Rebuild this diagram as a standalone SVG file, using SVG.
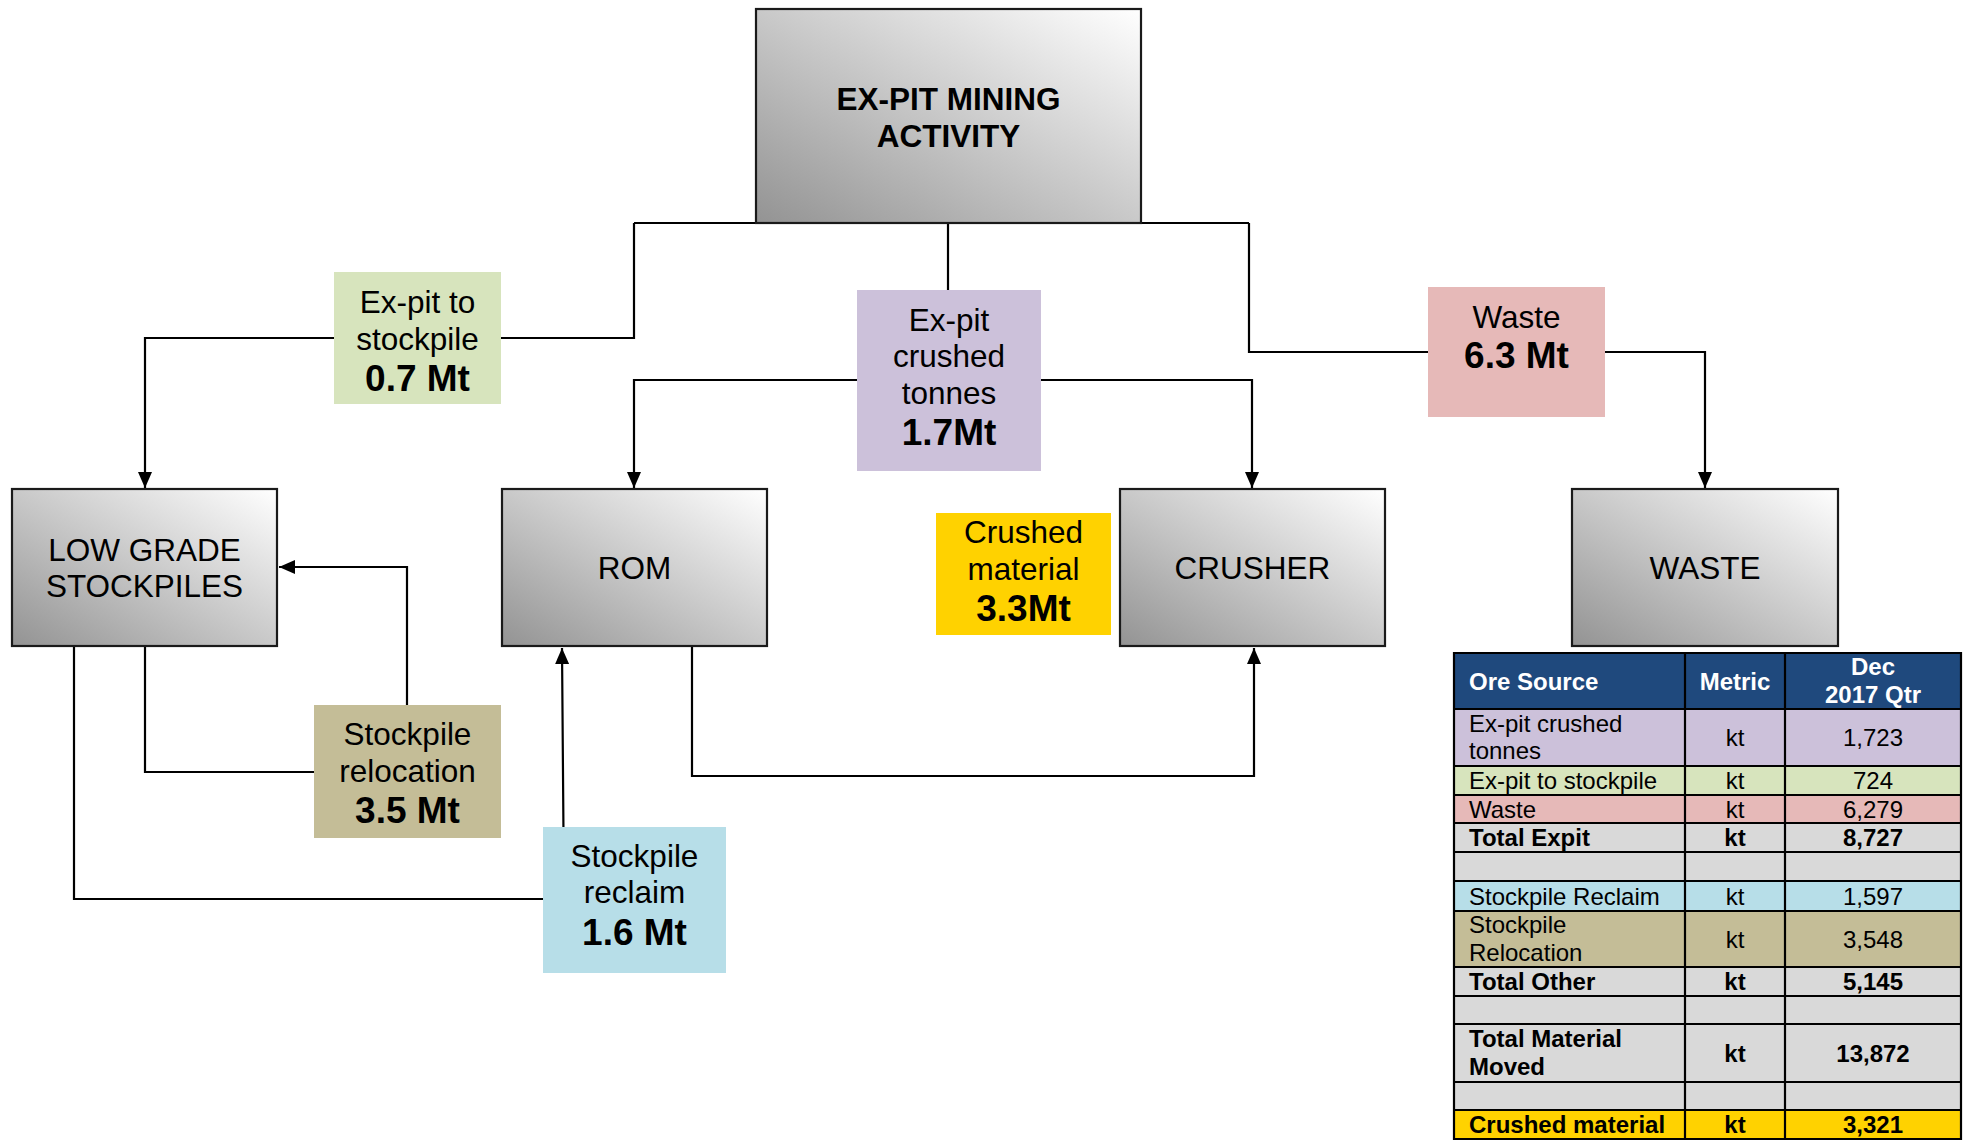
<svg xmlns="http://www.w3.org/2000/svg" width="1971" height="1141" viewBox="0 0 1971 1141">
<style>
.box{stroke:#1a1a1a;stroke-width:2.2;fill:url(#g)}
.t{font-family:"Liberation Sans",Arial,sans-serif;font-size:31.5px;fill:#000;text-anchor:middle}
.b{font-weight:bold}
.v{font-family:"Liberation Sans",Arial,sans-serif;font-size:37px;font-weight:bold;fill:#000;text-anchor:middle}
.c{fill:none;stroke:#000;stroke-width:2.2}
.tt{font-family:"Liberation Sans",Arial,sans-serif;font-size:24px;fill:#000}
.th{font-family:"Liberation Sans",Arial,sans-serif;font-size:24px;fill:#fff;font-weight:bold}
.m{text-anchor:middle}
.grid{stroke:#000;stroke-width:2.2;fill:none}
</style>
<defs>
<linearGradient id="g" x1="0" y1="1" x2="1" y2="0">
<stop offset="0" stop-color="#939393"/>
<stop offset="1" stop-color="#ffffff"/>
</linearGradient>
<marker id="a" viewBox="0 0 16 14" refX="16" refY="7" markerWidth="16" markerHeight="14" markerUnits="userSpaceOnUse" orient="auto">
<path d="M0,0 L16,7 L0,14 z" fill="#000"/>
</marker>
</defs>
<rect width="1971" height="1141" fill="#fff"/>
<g id="connectors">
<path class="c" d="M634,223 H1249"/>
<path class="c" d="M634,223 V338 H145 V488" marker-end="url(#a)"/>
<path class="c" d="M948,223 V290"/>
<path class="c" d="M948,380 H634 V488" marker-end="url(#a)"/>
<path class="c" d="M948,380 H1252 V488" marker-end="url(#a)"/>
<path class="c" d="M1249,223 V352 H1705 V488" marker-end="url(#a)"/>
<path class="c" d="M145,646 V772 H407 V567 H279" marker-end="url(#a)"/>
<path class="c" d="M74,646 V899 H564 L562,648" marker-end="url(#a)"/>
<path class="c" d="M692,646 V776 H1254 V648" marker-end="url(#a)"/>
</g>
<g id="exPit">
<rect class="box" x="756" y="9" width="385" height="214"/>
<text class="t b" x="948.5" y="110">EX-PIT MINING</text>
<text class="t b" x="948.5" y="147">ACTIVITY</text>
</g>
<g id="lowGrade">
<rect class="box" x="12" y="489" width="265" height="157"/>
<text class="t" x="144.5" y="561">LOW GRADE</text>
<text class="t" x="144.5" y="597">STOCKPILES</text>
</g>
<g id="rom">
<rect class="box" x="502" y="489" width="265" height="157"/>
<text class="t" x="634.5" y="579">ROM</text>
</g>
<g id="crusher">
<rect class="box" x="1120" y="489" width="265" height="157"/>
<text class="t" x="1252.5" y="579">CRUSHER</text>
</g>
<g id="waste">
<rect class="box" x="1572" y="489" width="266" height="157"/>
<text class="t" x="1705" y="579">WASTE</text>
</g>
<g id="lblExpitStockpile">
<rect x="334" y="272" width="167" height="132" fill="#D7E4BD"/>
<text class="t" x="417.5" y="313">Ex-pit to</text>
<text class="t" x="417.5" y="350">stockpile</text>
<text class="v" x="417.5" y="391">0.7 Mt</text>
</g>
<g id="lblCrushedTonnes">
<rect x="857" y="290" width="184" height="181" fill="#CCC1DA"/>
<text class="t" x="949" y="331">Ex-pit</text>
<text class="t" x="949" y="367">crushed</text>
<text class="t" x="949" y="404">tonnes</text>
<text class="v" x="949" y="445">1.7Mt</text>
</g>
<g id="lblWaste">
<rect x="1428" y="287" width="177" height="130" fill="#E6B9B8"/>
<text class="t" x="1516.5" y="328">Waste</text>
<text class="v" x="1516.5" y="368">6.3 Mt</text>
</g>
<g id="lblCrushedMaterial">
<rect x="936" y="513" width="175" height="122" fill="#FFD200"/>
<text class="t" x="1023.5" y="543">Crushed</text>
<text class="t" x="1023.5" y="580">material</text>
<text class="v" x="1023.5" y="621">3.3Mt</text>
</g>
<g id="lblRelocation">
<rect x="314" y="705" width="187" height="133" fill="#C4BD97"/>
<text class="t" x="407.5" y="745">Stockpile</text>
<text class="t" x="407.5" y="782">relocation</text>
<text class="v" x="407.5" y="823">3.5 Mt</text>
</g>
<g id="lblReclaim">
<rect x="543" y="827" width="183" height="146" fill="#B7DEE8"/>
<text class="t" x="634.5" y="867">Stockpile</text>
<text class="t" x="634.5" y="903">reclaim</text>
<text class="v" x="634.5" y="945">1.6 Mt</text>
</g>
<g id="table">
<rect x="1454" y="653" width="507" height="56" fill="#1F497D"/>
<rect x="1454" y="709" width="507" height="57" fill="#CCC1DA"/>
<rect x="1454" y="766" width="507" height="29" fill="#D7E4BD"/>
<rect x="1454" y="795" width="507" height="28" fill="#E6B9B8"/>
<rect x="1454" y="823" width="507" height="58" fill="#D9D9D9"/>
<rect x="1454" y="881" width="507" height="30" fill="#B7DEE8"/>
<rect x="1454" y="911" width="507" height="56" fill="#C4BD97"/>
<rect x="1454" y="967" width="507" height="143" fill="#D9D9D9"/>
<rect x="1454" y="1110" width="507" height="29" fill="#FFD200"/>
<path class="grid" d="M1454,653 H1961 V1139 H1454 Z M1685,653 V1139 M1785,653 V1139 M1454,709 H1961 M1454,766 H1961 M1454,795 H1961 M1454,823 H1961 M1454,852 H1961 M1454,881 H1961 M1454,911 H1961 M1454,967 H1961 M1454,996 H1961 M1454,1024 H1961 M1454,1082 H1961 M1454,1110 H1961"/>
<text class="th" x="1469" y="690">Ore Source</text>
<text class="th m" x="1735" y="690">Metric</text>
<text class="th m" x="1873" y="675">Dec</text>
<text class="th m" x="1873" y="703">2017 Qtr</text>
<text class="tt" x="1469" y="732">Ex-pit crushed</text>
<text class="tt" x="1469" y="759">tonnes</text>
<text class="tt m" x="1735" y="746">kt</text>
<text class="tt m" x="1873" y="746">1,723</text>
<text class="tt" x="1469" y="789">Ex-pit to stockpile</text>
<text class="tt m" x="1735" y="789">kt</text>
<text class="tt m" x="1873" y="789">724</text>
<text class="tt" x="1469" y="818">Waste</text>
<text class="tt m" x="1735" y="818">kt</text>
<text class="tt m" x="1873" y="818">6,279</text>
<text class="tt b" x="1469" y="846">Total Expit</text>
<text class="tt b m" x="1735" y="846">kt</text>
<text class="tt b m" x="1873" y="846">8,727</text>
<text class="tt" x="1469" y="905">Stockpile Reclaim</text>
<text class="tt m" x="1735" y="905">kt</text>
<text class="tt m" x="1873" y="905">1,597</text>
<text class="tt" x="1469" y="933">Stockpile</text>
<text class="tt" x="1469" y="961">Relocation</text>
<text class="tt m" x="1735" y="948">kt</text>
<text class="tt m" x="1873" y="948">3,548</text>
<text class="tt b" x="1469" y="990">Total Other</text>
<text class="tt b m" x="1735" y="990">kt</text>
<text class="tt b m" x="1873" y="990">5,145</text>
<text class="tt b" x="1469" y="1047">Total Material</text>
<text class="tt b" x="1469" y="1075">Moved</text>
<text class="tt b m" x="1735" y="1062">kt</text>
<text class="tt b m" x="1873" y="1062">13,872</text>
<text class="tt b" x="1469" y="1133">Crushed material</text>
<text class="tt b m" x="1735" y="1133">kt</text>
<text class="tt b m" x="1873" y="1133">3,321</text>
</g>
</svg>
